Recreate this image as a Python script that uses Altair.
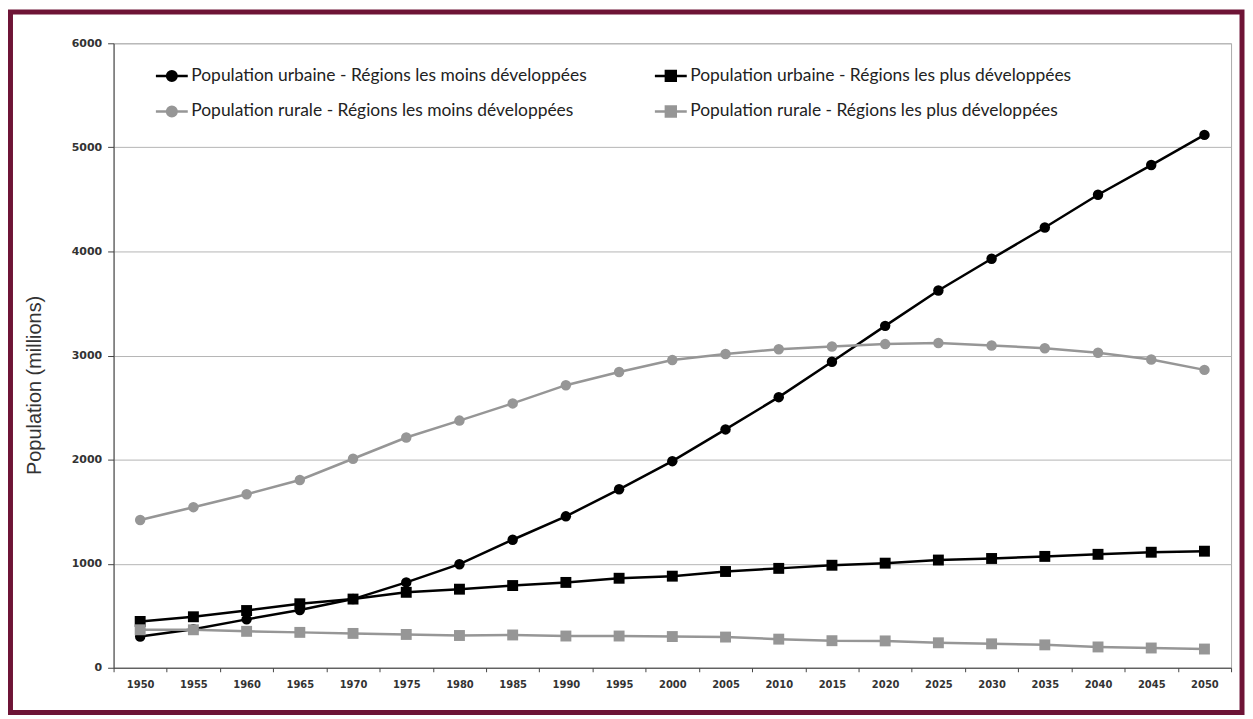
import altair as alt
import pandas as pd

years = ["1950", "1955", "1960", "1965", "1970", "1975", "1980", "1985", "1990", "1995", "2000",
         "2005", "2010", "2015", "2020", "2025", "2030", "2035", "2040", "2045", "2050"]

# order chosen so the 2-column legend reads row by row like the original
series_names = [
    "Population urbaine - Régions les moins développées",
    "Population rurale - Régions les moins développées",
    "Population urbaine - Régions les plus développées",
    "Population rurale - Régions les plus développées",
]

urban_less = [300, 370, 465, 555, 660, 820, 995, 1230, 1455, 1715, 1985, 2290, 2600, 2940, 3285, 3625, 3930, 4230, 4545, 4830, 5120]
rural_less = [1420, 1543, 1667, 1804, 2008, 2212, 2375, 2540, 2715, 2842, 2957, 3015, 3060, 3087, 3110, 3120, 3097, 3070, 3027, 2962, 2862]
urban_more = [445, 490, 550, 615, 660, 725, 755, 790, 820, 860, 880, 925, 955, 985, 1005, 1035, 1050, 1070, 1090, 1110, 1120]
rural_more = [365, 365, 350, 340, 330, 320, 310, 315, 305, 305, 300, 295, 275, 260, 258, 240, 230, 220, 200, 190, 180]

series_colors = ["#000000", "#969696", "#000000", "#969696"]
series_markers = ["circle", "circle", "square", "square"]
y_ticks = [0, 1000, 2000, 3000, 4000, 5000, 6000]

rows = []
for name, marker, vals in zip(series_names, series_markers, [urban_less, rural_less, urban_more, rural_more]):
    for yr, v in zip(years, vals):
        rows.append({"annee": yr, "serie": name, "marker": marker, "pop": v})
df = pd.DataFrame(rows)

W, H = 1122, 627

x_enc = alt.X(
    "annee:O", title=None, sort=years, bandPosition=0.5,
    scale=alt.Scale(type="band", paddingInner=0, paddingOuter=0),
    axis=alt.Axis(tickBand="extent", labelAngle=0, labelFont="DejaVu Sans", labelFontSize=10,
                  labelFontWeight="bold", labelColor="#333", labelPadding=8, tickSize=4,
                  tickColor="#444", domainColor="#444", grid=False),
)
y_enc = alt.Y(
    "pop:Q", scale=alt.Scale(domain=[0, 6000], nice=False),
    axis=alt.Axis(values=y_ticks, grid=True, gridColor="#b4b4b4", domainColor="#444", tickColor="#444",
                  tickSize=6, labelFont="DejaVu Sans", labelFontSize=11, labelFontWeight="bold",
                  labelColor="#333", labelPadding=6, format="d",
                  title="Population (millions)", titleFont="Liberation Sans", titleFontSize=20,
                  titleFontWeight="normal", titleColor="#333", titleAngle=270, titleX=-73, titleY=343,
                  titleAlign="center", titleBaseline="alphabetic"),
)

sym_expr = ("indexof(datum.value, 'plus') >= 0 ? 'M-1,0H1M-0.31,-0.31H0.31V0.31H-0.31Z' : "
            "'M-1,0H1M0.3,0A0.3,0.3,0,1,1,-0.3,0A0.3,0.3,0,1,1,0.3,0Z'")
col_expr = "indexof(datum.value, 'urbaine') >= 0 ? '#000000' : '#969696'"

legend = alt.Legend(
    title=None, orient="none", legendX=41, legendY=15, columns=2, columnPadding=62, rowPadding=8,
    symbolSize=1024, symbolStrokeWidth=2.5, labelFont="Lato", labelFontSize=17.5, labelColor="#222",
    labelOffset=2, labelLimit=0, padding=0,
    symbolType=alt.ExprRef(expr=sym_expr),
    symbolStrokeColor=alt.ExprRef(expr=col_expr),
    symbolFillColor=alt.ExprRef(expr=col_expr),
)

color_scale = alt.Scale(domain=series_names, range=series_colors)
color_enc = alt.Color("serie:N", scale=color_scale, sort=series_names, legend=legend)

base = alt.Chart(df).encode(x=x_enc, y=y_enc, color=color_enc)
lines = base.mark_line(strokeWidth=2.5)
circles = base.mark_point(filled=True, opacity=1, size=110, shape="circle").transform_filter(
    alt.datum.marker == "circle")
squares = base.mark_point(filled=True, opacity=1, size=120, shape="square").transform_filter(
    alt.datum.marker == "square")

frame = alt.Chart(pd.DataFrame({"k": [0]})).mark_rect(
    fill=None, stroke="#6e1436", strokeWidth=5
).encode(
    x=alt.value(-103.5), x2=alt.value(1133), y=alt.value(-31.5), y2=alt.value(672)
)

chart = alt.layer(lines, circles, squares, frame).properties(
    width=W, height=H, padding=0, background="white"
).configure_view(stroke="#aaaaaa", strokeWidth=1)

chart.save("out.html", embed_options={"renderer": "svg", "actions": False})
